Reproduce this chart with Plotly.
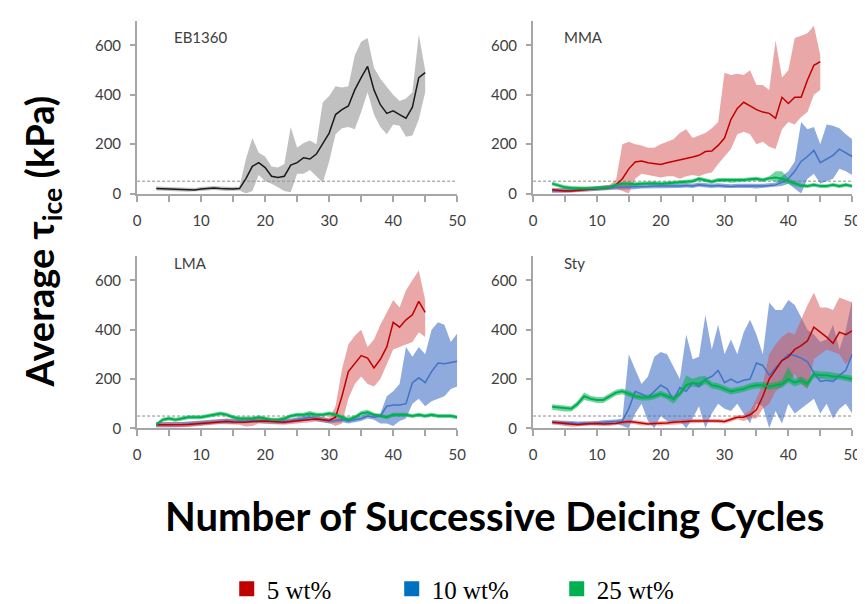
import plotly.graph_objects as go

# ---------------- data ----------------
THRESHOLD = 50
X_MAX = 50

cyc45 = list(range(3, 46))
cyc50 = list(range(3, 51))

# EB1360 (black)
eb_mean = [20, 20, 18, 17, 16, 15, 14, 18, 20, 22, 20, 18, 18, 20,
           60, 110, 125, 105, 70, 65, 70, 115, 125, 145, 140, 160, 205, 245,
           320, 340, 355, 420, 470, 515, 420, 360, 325, 335, 320, 305, 350, 470, 490]
eb_hi = [28, 28, 26, 25, 24, 23, 22, 26, 28, 30, 28, 26, 26, 28,
         140, 225, 165, 150, 110, 105, 120, 270, 185, 205, 215, 200, 370, 395,
         435, 430, 435, 560, 615, 630, 510, 465, 430, 400, 375, 385, 410, 645, 500]
eb_lo = [12, 12, 10, 9, 8, 7, 6, 10, 12, 14, 12, 10, 10, 12,
         0, 10, 75, 50, 40, 25, 10, 5, 80, 80, 95, 70, 45, 130,
         240, 265, 270, 260, 330, 410, 320, 270, 240, 280, 275, 230, 235, 300, 410]

# MMA
mma_r_mean = [15, 12, 10, 10, 12, 14, 15, 18, 22, 25, 35, 60, 100, 128, 132, 125, 120, 118,
              125, 130, 135, 140, 148, 155, 170, 172, 195, 225, 300, 345, 370, 355, 340, 330,
              325, 305, 390, 365, 390, 390, 460, 520, 535]
mma_r_hi = [22, 20, 18, 18, 20, 22, 24, 28, 32, 36, 55, 200, 210, 200, 195, 185, 185, 200,
            210, 220, 245, 260, 225, 235, 245, 265, 290, 490, 480, 485, 480, 500, 440, 440,
            420, 620, 470, 500, 630, 640, 650, 680, 560]
mma_r_lo = [8, 5, 3, 3, 5, 7, 8, 10, 14, 16, 20, 10, 0, 60, 80, 75, 70, 65,
            70, 70, 60, 70, 75, 70, 80, 85, 120, 150, 180, 240, 250, 240, 200, 210,
            190, 180, 260, 290, 280, 310, 330, 400, 420]

mma_b_mean = [10, 10, 12, 12, 14, 15, 16, 18, 20, 22, 25, 25, 25, 25, 28, 28, 30, 30, 28, 30,
              30, 32, 30, 35, 32, 30, 32, 30, 28, 30, 30, 30, 28, 30, 32, 35, 45, 60, 90, 130,
              150, 175, 125, 140, 155, 180, 165, 150]
mma_b_hi = [20, 20, 22, 22, 24, 25, 26, 28, 30, 32, 35, 35, 35, 35, 38, 38, 40, 40, 38, 40,
            40, 42, 40, 45, 42, 40, 42, 40, 38, 40, 40, 40, 38, 40, 42, 45, 70, 90, 130, 290,
            260, 270, 200, 280, 275, 265, 240, 220]
mma_b_lo = [2, 2, 4, 4, 6, 7, 8, 10, 12, 14, 17, 17, 17, 17, 20, 20, 22, 22, 20, 22,
            22, 24, 22, 27, 24, 22, 24, 22, 20, 22, 22, 22, 20, 22, 24, 27, 30, 40, 20, 0,
            60, 80, 40, 50, 60, 100, 90, 75]

mma_g_mean = [40, 32, 25, 22, 20, 20, 20, 22, 22, 25, 35, 40, 40, 38, 40, 42, 42, 40, 42, 45,
              45, 48, 50, 60, 55, 48, 55, 55, 52, 55, 55, 58, 60, 55, 62, 65, 60, 50, 40, 32,
              30, 35, 30, 30, 35, 30, 35, 30]
mma_g_hi = [48, 40, 33, 30, 28, 28, 28, 30, 30, 33, 43, 48, 48, 46, 48, 50, 50, 48, 50, 53,
            53, 56, 58, 68, 63, 56, 63, 63, 60, 63, 63, 66, 68, 63, 70, 90, 90, 62, 50, 40,
            38, 43, 38, 38, 43, 38, 43, 38]
mma_g_lo = [32, 24, 17, 14, 12, 12, 12, 14, 14, 17, 27, 32, 32, 30, 32, 34, 34, 32, 34, 37,
            37, 40, 42, 52, 47, 40, 47, 47, 44, 47, 47, 50, 52, 47, 54, 52, 45, 40, 30, 24,
            22, 27, 22, 22, 27, 22, 27, 22]

# LMA
lma_r_mean = [15, 15, 14, 14, 15, 16, 18, 20, 22, 25, 28, 28, 26, 25, 25, 28, 30, 30, 28, 26,
              25, 28, 30, 32, 35, 38, 35, 32, 45, 130, 230, 265, 295, 285, 245, 280, 330, 430,
              410, 440, 460, 515, 470]
lma_r_hi = [25, 25, 24, 24, 25, 26, 28, 30, 32, 35, 38, 38, 36, 35, 35, 38, 40, 40, 38, 36,
            35, 38, 40, 42, 45, 48, 45, 42, 90, 240, 340, 375, 400, 330, 360, 420, 470, 520,
            490, 560, 600, 640, 520]
lma_r_lo = [5, 5, 4, 4, 5, 6, 8, 10, 12, 15, 18, 18, 16, 15, 8, 10, 20, 20, 18, 16,
            15, 18, 20, 22, 25, 28, 25, 22, 10, 20, 120, 180, 210, 180, 170, 200, 260, 320,
            330, 340, 350, 390, 370]

lma_b_mean = [15, 15, 14, 15, 16, 18, 20, 22, 25, 28, 30, 30, 28, 28, 30, 32, 32, 30, 30, 28,
              28, 30, 35, 40, 45, 40, 35, 30, 32, 35, 30, 35, 40, 50, 45, 50, 90, 95, 95, 100,
              185, 205, 185, 230, 265, 262, 268, 272]
lma_b_hi = [25, 25, 24, 25, 26, 28, 30, 32, 35, 38, 40, 40, 38, 38, 40, 42, 42, 40, 40, 38,
            38, 40, 45, 50, 55, 50, 45, 40, 42, 45, 40, 45, 50, 60, 55, 60, 130, 150, 180, 330,
            290, 330, 300, 400, 430, 420, 350, 385]
lma_b_lo = [5, 5, 4, 5, 6, 8, 10, 12, 15, 18, 20, 20, 18, 18, 20, 22, 22, 20, 20, 18,
            18, 20, 25, 30, 35, 30, 25, 20, 22, 25, 20, 25, 30, 40, 35, 20, 20, 10, 30, 40,
            100, 120, 90, 110, 120, 130, 160, 170]

lma_g_mean = [15, 35, 40, 35, 40, 45, 45, 45, 50, 55, 60, 55, 45, 40, 40, 40, 45, 40, 35, 35,
              40, 50, 55, 55, 60, 55, 55, 60, 55, 45, 35, 45, 60, 65, 55, 50, 45, 55, 55, 55,
              50, 55, 50, 55, 50, 50, 50, 45]
lma_g_hi = [22, 43, 48, 43, 48, 53, 53, 53, 58, 63, 68, 63, 53, 48, 48, 48, 53, 48, 43, 43,
            48, 58, 63, 63, 70, 63, 63, 68, 63, 53, 45, 53, 70, 75, 63, 58, 53, 63, 63, 63,
            58, 63, 58, 63, 58, 58, 58, 53]
lma_g_lo = [8, 27, 32, 27, 32, 37, 37, 37, 42, 47, 52, 47, 37, 32, 32, 32, 37, 32, 27, 27,
            32, 42, 47, 47, 50, 47, 47, 52, 47, 37, 25, 37, 50, 55, 47, 42, 37, 47, 47, 47,
            42, 47, 42, 47, 42, 42, 42, 37]

# Sty
sty_r_mean = [25, 22, 18, 15, 15, 18, 20, 20, 18, 18, 20, 25, 28, 25, 20, 18, 20, 20, 22, 25,
              25, 28, 30, 30, 32, 32, 30, 28, 35, 45, 45, 55, 75, 130, 200, 240, 275, 290, 320,
              335, 355, 410, 390, 370, 345, 390, 380, 395]
sty_r_hi = [33, 30, 26, 23, 23, 26, 28, 28, 26, 26, 28, 33, 36, 33, 28, 26, 28, 28, 30, 33,
            33, 36, 38, 38, 40, 40, 38, 36, 43, 53, 55, 70, 120, 180, 300, 340, 370, 390, 380,
            440, 500, 550, 490, 490, 480, 530, 520, 510]
sty_r_lo = [17, 14, 10, 7, 7, 10, 12, 12, 10, 10, 12, 17, 20, 17, 12, 10, 12, 12, 14, 17,
            17, 20, 22, 22, 24, 24, 22, 20, 27, 37, 30, 40, 40, 80, 100, 150, 170, 190, 220,
            180, 160, 280, 300, 320, 310, 300, 260, 290]

sty_b_mean = [25, 25, 22, 22, 20, 20, 22, 22, 25, 25, 28, 30, 80, 150, 140, 125, 150, 175, 160, 115,
              165, 150, 185, 170, 200, 210, 235, 185, 200, 185, 195, 200, 265, 255, 215, 245, 275, 300,
              295, 285, 270, 225, 190, 195, 190, 215, 235, 300]
sty_b_hi = [33, 33, 30, 30, 28, 28, 30, 30, 33, 33, 36, 40, 300, 240, 180, 210, 290, 310, 300, 250,
            200, 380, 280, 290, 460, 320, 420, 300, 360, 300, 390, 440, 380, 300, 510, 480, 480, 520,
            500, 450, 400, 380, 350, 360, 420, 320, 400, 520]
sty_b_lo = [17, 17, 14, 14, 12, 12, 14, 14, 17, 17, 20, 10, 0, 60, 100, 30, 0, 50, 30, 20,
            30, 0, 40, 90, 0, 60, 100, 80, 70, 100, 60, 20, 100, 90, 0, 70, 20, 100,
            60, 80, 100, 120, 60, 100, 40, 80, 100, 60]

sty_g_mean = [88, 85, 80, 80, 100, 130, 120, 115, 115, 130, 145, 150, 140, 130, 125, 125, 130, 140,
              130, 120, 140, 175, 185, 180, 195, 175, 170, 160, 150, 155, 160, 170, 175, 175, 170,
              175, 180, 200, 185, 195, 180, 220, 215, 215, 210, 210, 205, 200]
sty_g_hi = [98, 95, 90, 90, 112, 145, 132, 127, 127, 142, 157, 162, 152, 142, 137, 137, 142, 152,
            142, 132, 152, 215, 200, 210, 212, 188, 183, 173, 163, 168, 173, 183, 188, 188, 183,
            188, 195, 250, 200, 210, 195, 235, 230, 230, 225, 222, 218, 213]
sty_g_lo = [75, 72, 68, 68, 88, 115, 108, 103, 103, 118, 133, 138, 128, 118, 113, 113, 118, 128,
            118, 100, 128, 160, 170, 165, 180, 162, 157, 147, 137, 142, 147, 157, 162, 162, 157,
            162, 165, 185, 170, 180, 165, 205, 200, 200, 195, 198, 192, 187]

panel_titles = ["EB1360", "MMA", "LMA", "Sty"]
legend_names = ["5 wt%", "10 wt%", "25 wt%"]
y_ticks = [0, 200, 400, 600]
x_ticks = [0, 10, 20, 30, 40, 50]

# ---------------- style ----------------
RED, BLUE, GREEN, BLACK = "#c00000", "#4472c4", "#00b050", "#1a1a1a"
RED_F = "rgba(214,80,80,0.5)"
BLUE_F = "rgba(68,114,196,0.6)"
GREEN_F = "rgba(0,176,80,0.55)"
GREY_F = "rgba(150,150,150,0.6)"
LEG_COLORS = ["#c00000", "#0070c0", "#00b050"]

fig = go.Figure()


def band(ax, x, lo, hi, color):
    fig.add_trace(go.Scatter(x=list(x) + list(x)[::-1], y=list(hi) + list(lo)[::-1],
                             fill="toself", fillcolor=color, line=dict(width=0),
                             mode="lines", showlegend=False, hoverinfo="skip",
                             xaxis="x" + ax, yaxis="y" + ax))


def line(ax, x, y, color, w=1.5):
    fig.add_trace(go.Scatter(x=list(x), y=list(y), mode="lines",
                             line=dict(color=color, width=w), showlegend=False,
                             xaxis="x" + ax, yaxis="y" + ax))


def thresh(ax):
    fig.add_trace(go.Scatter(x=[0, X_MAX], y=[THRESHOLD, THRESHOLD], mode="lines",
                             line=dict(color="#8c8c8c", width=1, dash="3px,2px"),
                             showlegend=False, hoverinfo="skip",
                             xaxis="x" + ax, yaxis="y" + ax))


# panel 1
thresh("")
band("", cyc45, eb_lo, eb_hi, GREY_F)
line("", cyc45, eb_mean, BLACK)
# panel 2
thresh("2")
band("2", cyc50, mma_b_lo, mma_b_hi, BLUE_F)
band("2", cyc45, mma_r_lo, mma_r_hi, RED_F)
band("2", cyc50, mma_g_lo, mma_g_hi, GREEN_F)
line("2", cyc50, mma_b_mean, BLUE)
line("2", cyc45, mma_r_mean, RED)
line("2", cyc50, mma_g_mean, GREEN, 2)
# panel 3
thresh("3")
band("3", cyc50, lma_b_lo, lma_b_hi, BLUE_F)
band("3", cyc45, lma_r_lo, lma_r_hi, RED_F)
band("3", cyc50, lma_g_lo, lma_g_hi, GREEN_F)
line("3", cyc50, lma_b_mean, BLUE)
line("3", cyc45, lma_r_mean, RED)
line("3", cyc50, lma_g_mean, GREEN, 2)
# panel 4
thresh("4")
band("4", cyc50, sty_b_lo, sty_b_hi, BLUE_F)
band("4", cyc50, sty_r_lo, sty_r_hi, RED_F)
band("4", cyc50, sty_g_lo, sty_g_hi, GREEN_F)
line("4", cyc50, sty_b_mean, BLUE)
line("4", cyc50, sty_r_mean, RED)
line("4", cyc50, sty_g_mean, GREEN, 2)

# legend entries
for name, c in zip(legend_names, LEG_COLORS):
    fig.add_trace(go.Scatter(x=[None], y=[None], mode="markers", name=name,
                             marker=dict(symbol="square", size=15, color=c)))

TICKFONT = dict(family="Lato, 'Open Sans', sans-serif", size=15, color="#404040")
AXC = "#a6a6a6"


def xax(dom, anchor):
    return dict(domain=dom, anchor=anchor, range=[0, X_MAX], tickvals=x_ticks,
                showline=True, linecolor=AXC, linewidth=2, ticks="outside",
                ticklen=6, tickwidth=1.5, tickcolor=AXC, showgrid=False, zeroline=False,
                tickfont=TICKFONT, ticklabelstandoff=6,
                minor=dict(dtick=5, ticks="outside", ticklen=6, tickwidth=1.5, tickcolor=AXC))


def yax(dom, anchor):
    return dict(domain=dom, anchor=anchor, range=[0, 700], tickvals=y_ticks,
                showline=True, linecolor=AXC, linewidth=2, ticks="outside",
                ticklen=5, tickwidth=1.5, tickcolor=AXC, showgrid=False, zeroline=False,
                tickfont=TICKFONT, ticklabelstandoff=6)


XL = [127 / 865, 452 / 865]
XR = [529 / 865, 853 / 865]
YT = [1 - 188 / 604, 1 - 13 / 604]
YB = [1 - 426 / 604, 1 - 251 / 604]

annots = []
pos = [("x", "y", 0.11, 0.909), ("x2", "y2", 0.09, 0.909),
       ("x3", "y3", 0.11, 0.96), ("x4", "y4", 0.09, 0.96)]
for t, (xa, ya, px, py) in zip(panel_titles, pos):
    annots.append(dict(text=t, xref=xa + " domain", yref=ya + " domain", x=px, y=py,
                       xanchor="left", yanchor="middle", showarrow=False,
                       font=dict(family="Lato, sans-serif", size=15, color="#404040")))

annots.append(dict(text="Average τ<sub>ice</sub> (kPa)", textangle=-90, xref="paper", yref="paper",
                   x=30 / 865, y=1 - 237 / 604, xanchor="center", yanchor="middle", showarrow=False,
                   font=dict(family="Lato, sans-serif", size=38, color="#000000", weight="bold")))
annots.append(dict(text="Number of Successive Deicing Cycles", xref="paper", yref="paper",
                   x=490 / 865, y=1 - 515 / 604, xanchor="center", yanchor="middle", showarrow=False,
                   font=dict(family="Lato, sans-serif", size=40, color="#000000", weight="bold")))

fig.update_layout(
    width=865, height=604, margin=dict(l=0, r=0, t=0, b=0),
    paper_bgcolor="white", plot_bgcolor="white",
    xaxis=xax(XL, "y"), yaxis=yax(YT, "x"),
    xaxis2=xax(XR, "y2"), yaxis2=yax(YT, "x2"),
    xaxis3=xax(XL, "y3"), yaxis3=yax(YB, "x3"),
    xaxis4=xax(XR, "y4"), yaxis4=yax(YB, "x4"),
    annotations=annots,
    showlegend=True,
    legend=dict(orientation="h", x=218 / 865, y=1 - 589 / 604, xanchor="left", yanchor="middle",
                font=dict(family="Liberation Serif, serif", size=25, color="#000000"),
                entrywidth=120, entrywidthmode="pixels", bgcolor="rgba(0,0,0,0)"),
)

fig.write_html("out.html")
